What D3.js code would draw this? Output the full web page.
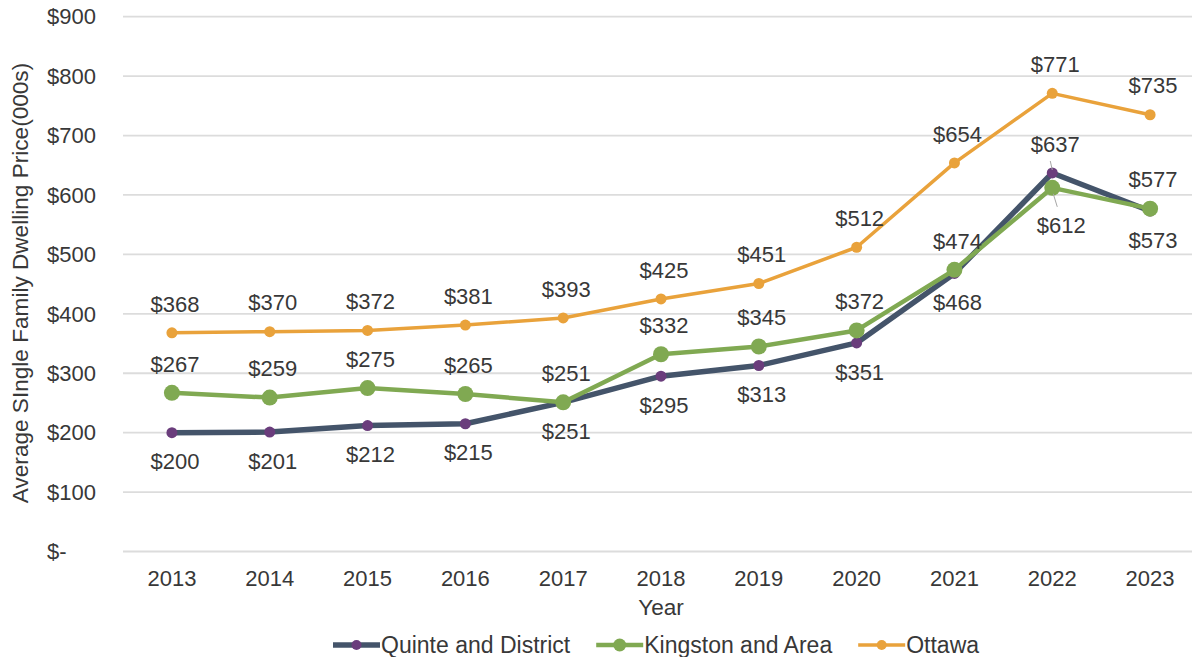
<!DOCTYPE html>
<html>
<head>
<meta charset="utf-8">
<script src="https://cdn.jsdelivr.net/npm/d3@7"></script>
<style>
  body { margin: 0; background: #fff; }
  svg { display: block; font-family: "Liberation Sans", Arial, sans-serif; }
  .tick-label, .data-label, .legend-label, .axis-title { fill: #383838; font-size: 22px; }
  .legend-label { font-size: 23px; }
  .axis-title { font-size: 22.6px; }
  .tick-label { white-space: pre; }
</style>
</head>
<body>
<svg id="chart" width="1192" height="657"></svg>
<script>
// data (prices in $000s)
let years = [2013, 2014, 2015, 2016, 2017, 2018, 2019, 2020, 2021, 2022, 2023];
let quinte = [200, 201, 212, 215, 251, 295, 313, 351, 468, 637, 573];
let kingston = [267, 259, 275, 265, 251, 332, 345, 372, 474, 612, 577];
let ottawa = [368, 370, 372, 381, 393, 425, 451, 512, 654, 771, 735];
let yTicks = [0, 100, 200, 300, 400, 500, 600, 700, 800, 900];
let seriesNames = ['Quinte and District', 'Kingston and Area', 'Ottawa'];

let svg = d3.select('#chart');

let x = d3.scaleBand().domain(years).range([123, 1199]).padding(0);
let y = d3.scaleLinear().domain([0, 900]).range([551.5, 16.7]);

// series settings (draw order: Quinte, Kingston, Ottawa)
let series = [
  { name: seriesNames[0], values: quinte, line: '#44546a', dot: '#6a3d7c', width: 5.5, r: 5.5,
    below: [1, 1, 1, 1, 1, 1, 1, 1, 1, 0, 1] },
  { name: seriesNames[1], values: kingston, line: '#80a952', dot: '#80a952', width: 4.5, r: 8,
    below: [0, 0, 0, 0, 0, 0, 0, 0, 0, 1, 0] },
  { name: seriesNames[2], values: ottawa, line: '#e9a23b', dot: '#e9a23b', width: 3.5, r: 5.5,
    below: [0, 0, 0, 0, 0, 0, 0, 0, 0, 0, 0] }
];

function cx(i) { return x(years[i]) + x.bandwidth() / 2; }

// gridlines
svg.append('g')
  .selectAll('line')
  .data(yTicks)
  .enter()
  .append('line')
  .attr('x1', 123)
  .attr('x2', 1192)
  .attr('y1', function(d) { return y(d); })
  .attr('y2', function(d) { return y(d); })
  .attr('stroke', '#dcdcdc')
  .attr('stroke-width', 1.8);

// y tick labels (accounting style, zero shown as a dash)
svg.append('g')
  .selectAll('text')
  .data(yTicks)
  .enter()
  .append('text')
  .attr('class', 'tick-label')
  .attr('x', 47)
  .attr('y', function(d) { return y(d); })
  .attr('dy', '0.35em')
  .text(function(d) { return d === 0 ? '$-' : '$' + d; });

// x tick labels
svg.append('g')
  .selectAll('text')
  .data(years)
  .enter()
  .append('text')
  .attr('class', 'tick-label')
  .attr('x', function(d) { return x(d) + x.bandwidth() / 2; })
  .attr('y', 578)
  .attr('dy', '0.35em')
  .attr('text-anchor', 'middle')
  .text(function(d) { return d; });

// axis titles
svg.append('text')
  .attr('class', 'axis-title')
  .attr('x', 661)
  .attr('y', 607)
  .attr('dy', '0.35em')
  .attr('text-anchor', 'middle')
  .text('Year');

svg.append('text')
  .attr('class', 'axis-title')
  .attr('transform', 'translate(20,283) rotate(-90)')
  .attr('dy', '0.35em')
  .attr('text-anchor', 'middle')
  .text('Average SIngle Family Dwelling Price(000s)');

// lines + markers
let line = d3.line()
  .x(function(d, i) { return cx(i); })
  .y(function(d) { return y(d); });

series.forEach(function(s) {
  let g = svg.append('g');
  g.append('path')
    .datum(s.values)
    .attr('d', line)
    .attr('fill', 'none')
    .attr('stroke', s.line)
    .attr('stroke-width', s.width)
    .attr('stroke-linejoin', 'round');
  g.selectAll('circle')
    .data(s.values)
    .enter()
    .append('circle')
    .attr('cx', function(d, i) { return cx(i); })
    .attr('cy', function(d) { return y(d); })
    .attr('r', s.r)
    .attr('fill', s.dot);
});

// leader lines for the crowded 2022 labels
let i22 = years.indexOf(2022);
svg.append('line')
  .attr('x1', cx(i22) - 2).attr('y1', y(quinte[i22]) - 12)
  .attr('x2', cx(i22)).attr('y2', y(quinte[i22]) - 3)
  .attr('stroke', '#a6a6a6').attr('stroke-width', 1);
svg.append('line')
  .attr('x1', cx(i22) + 1).attr('y1', y(kingston[i22]) + 6)
  .attr('x2', cx(i22) + 5).attr('y2', y(kingston[i22]) + 19)
  .attr('stroke', '#a6a6a6').attr('stroke-width', 1);

// data labels
series.forEach(function(s) {
  svg.append('g')
    .selectAll('text')
    .data(s.values)
    .enter()
    .append('text')
    .attr('class', 'data-label')
    .attr('text-anchor', 'middle')
    .attr('x', function(d, i) {
      let off = 3;
      if (s.values === kingston && i === i22) off = 9;
      return cx(i) + off;
    })
    .attr('y', function(d, i) {
      if (s.below[i]) {
        let extra = (s.values === kingston && i === i22) ? 8 : 0;
        return y(d) + 29 + extra;
      }
      return y(d) - 29;
    })
    .attr('dy', '0.35em')
    .text(function(d) { return '$' + d; });
});

// legend
let legend = svg.append('g');
let lx = 333;
series.forEach(function(s) {
  let item = legend.append('g').attr('transform', 'translate(' + lx + ',645)');
  item.append('line')
    .attr('x1', 0).attr('x2', 47)
    .attr('stroke', s.line)
    .attr('stroke-width', s.width);
  item.append('circle')
    .attr('cx', 23.5)
    .attr('r', s.r === 8 ? 6.5 : 5)
    .attr('fill', s.dot);
  let t = item.append('text')
    .attr('class', 'legend-label')
    .attr('x', 48)
    .attr('dy', '0.35em')
    .text(s.name);
  lx += 48 + t.node().getComputedTextLength() + 26;
});
</script>
</body>
</html>
